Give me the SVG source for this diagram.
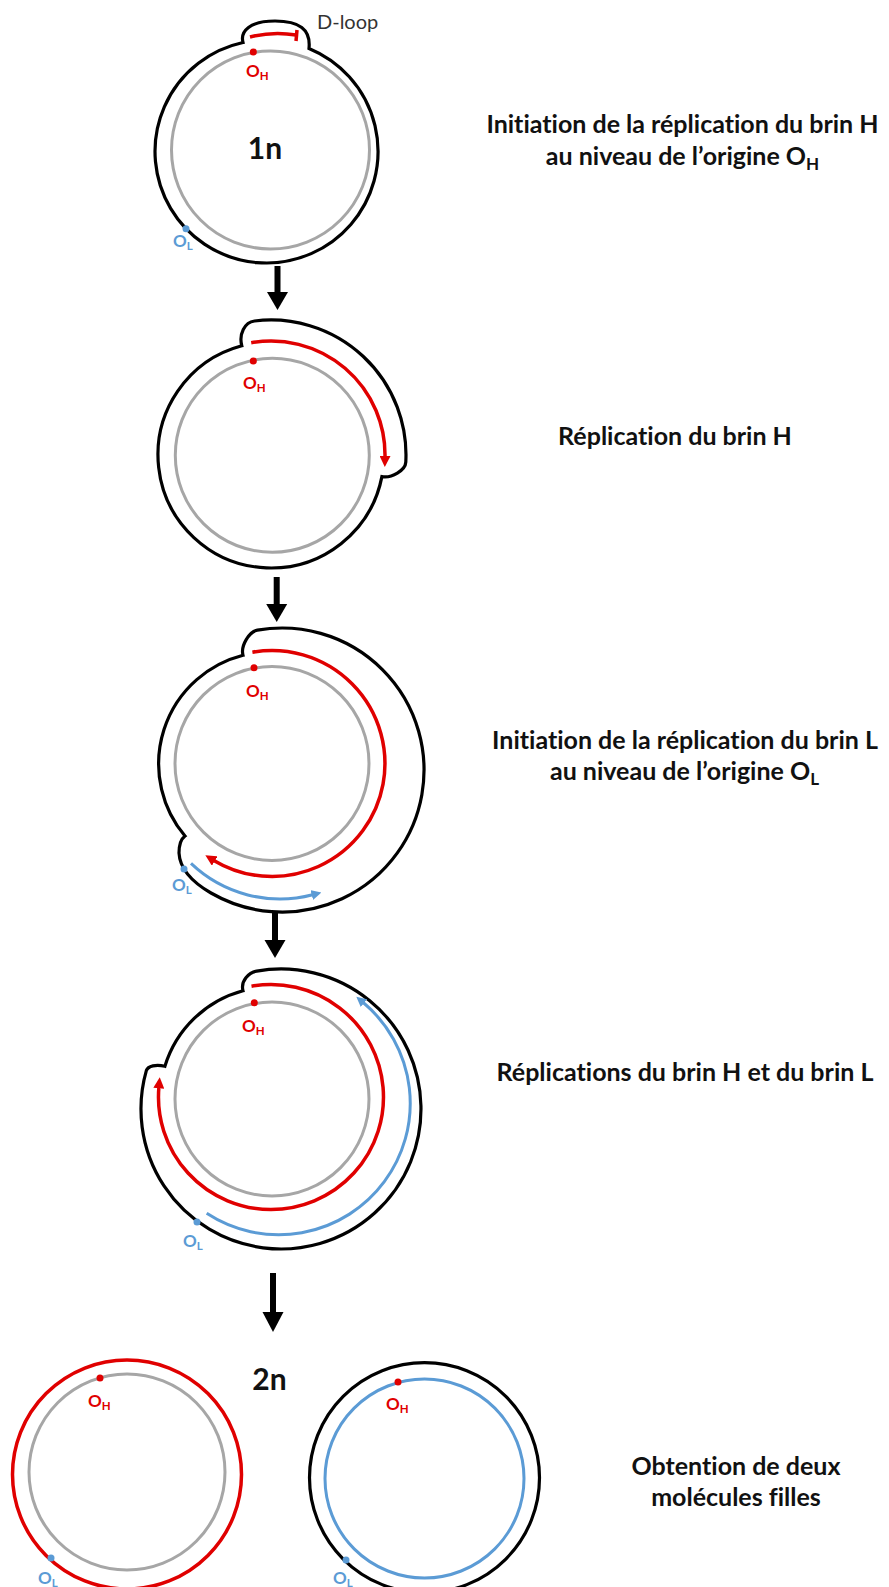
<svg xmlns="http://www.w3.org/2000/svg" width="889" height="1587" viewBox="0 0 889 1587">
<style>
text{font-variant-ligatures:none;font-feature-settings:"liga" 0,"clig" 0}
.blk{fill:none;stroke:#000;stroke-width:3.2}
.gry{fill:none;stroke:#A6A6A6;stroke-width:3}
.red{fill:none;stroke:#E00000;stroke-width:3.5}
.blu{fill:none;stroke:#5B9BD5;stroke-width:3}
.dr{fill:#E00000}
.db{fill:#5B9BD5}
.lh{font-family:Lato,"Open Sans",sans-serif;font-weight:bold;font-size:17px;fill:#E00000}
.ll{font-family:Lato,"Open Sans",sans-serif;font-weight:bold;font-size:17px;fill:#5B9BD5}
.sub{font-size:11.5px}
.cap{font-family:Lato,"Open Sans",sans-serif;font-weight:bold;font-size:25px;fill:#111;text-anchor:middle}
.csub{font-size:17px}
.nn{font-family:Lato,"Open Sans",sans-serif;font-weight:bold;font-size:30px;fill:#111;text-anchor:middle}
.arw{fill:#000}
</style>
<defs>
<marker id="ahR" viewBox="0 0 10 10" refX="1" refY="5" markerWidth="11" markerHeight="11" markerUnits="userSpaceOnUse" orient="auto"><path d="M0,0 L10,5 L0,10 z" fill="#E00000"/></marker>
<marker id="ahB" viewBox="0 0 10 10" refX="1" refY="5" markerWidth="10" markerHeight="10" markerUnits="userSpaceOnUse" orient="auto"><path d="M0,0 L10,5 L0,10 z" fill="#5B9BD5"/></marker>
</defs>
<rect width="889" height="1587" fill="#fff"/>

<g id="stage1">
<path class="blk" d="M309,48.4 A111.5 111.5 0 1 1 243,42.5 C240,31 250,21 275,21 C299,21 311,29 309,48.4 Z"/>
<circle class="gry" cx="270.5" cy="150" r="99"/>
<path class="red" d="M250,37 Q273,31 296,35"/>
<path class="red" d="M297,30 L296,41"/>
<circle class="dr" cx="253.3" cy="52" r="3.5"/>
<text class="lh" x="246" y="77">O<tspan class="sub" dy="3">H</tspan></text>
<circle class="db" cx="186" cy="228.7" r="3.5"/>
<text class="ll" x="173" y="247">O<tspan class="sub" dy="3">L</tspan></text>
<text class="nn" x="265" y="159">1n</text>
<text x="317" y="29" style="font-family:Lato,'Open Sans',sans-serif;font-size:20px;fill:#333">D-loop</text>
</g>

<g id="stage2">
<path class="blk" d="M241.8,345.8 C238.7,334.2 244.6,322.2 254.5,321 A135 135 0 0 1 405.8,462.1 C405.4,470.1 391.7,478.5 381.9,476.6 A113 113 0 1 1 241.8,345.8 Z"/>
<circle class="gry" cx="272.3" cy="455.3" r="97"/>
<path class="red" d="M251.2,342.7 A114 114 0 0 1 385,457" marker-end="url(#ahR)"/>
<circle class="dr" cx="253.3" cy="361" r="3.5"/>
<text class="lh" x="243" y="389">O<tspan class="sub" dy="3">H</tspan></text>
</g>

<g id="stage3">
<path class="blk" d="M243,655.3 C240.4,645.6 249.4,631.6 257.3,630.2 A142 142 0 1 1 211,893 C198,885.5 180,872 179,853 C179,845 181,839 185,836 A112 112 0 0 1 243,655.3 Z"/>
<circle class="gry" cx="272" cy="763.5" r="97"/>
<path class="red" d="M252.4,652.2 A113 113 0 1 1 213.8,860.4" marker-end="url(#ahR)"/>
<path class="blu" d="M191,863.4 A129 129 0 0 0 312.7,894.8" marker-end="url(#ahB)"/>
<circle class="dr" cx="254" cy="667.7" r="3.5"/>
<text class="lh" x="246" y="697">O<tspan class="sub" dy="3">H</tspan></text>
<circle class="db" cx="184" cy="869" r="3.5"/>
<text class="ll" x="172" y="891">O<tspan class="sub" dy="3">L</tspan></text>
</g>

<g id="stage4">
<path class="blk" d="M243,990.8 C240.4,981.1 248.8,972.5 256.7,971.1 A140 140 0 1 1 146.4,1070.4 C148,1066 156,1064 164.9,1066.3 A112 112 0 0 1 243,990.8 Z"/>
<circle class="gry" cx="272" cy="1099" r="97"/>
<path class="red" d="M251.5,986.2 A112.5 112.5 0 1 1 158.9,1087.2" marker-end="url(#ahR)"/>
<path class="blu" d="M206.7,1213.3 A131.5 131.5 0 0 0 363.2,1002.5" marker-end="url(#ahB)"/>
<circle class="dr" cx="254.3" cy="1002.7" r="3.5"/>
<text class="lh" x="242" y="1032">O<tspan class="sub" dy="3">H</tspan></text>
<circle class="db" cx="197" cy="1222" r="3.5"/>
<text class="ll" x="183" y="1247">O<tspan class="sub" dy="3">L</tspan></text>
</g>

<g id="stage5-left">
<circle class="red" cx="127" cy="1474.5" r="114.5"/>
<circle class="gry" cx="127" cy="1472" r="98"/>
<circle class="dr" cx="100" cy="1378" r="3.5"/>
<text class="lh" x="88" y="1407">O<tspan class="sub" dy="3">H</tspan></text>
<circle class="db" cx="51" cy="1558" r="3.5"/>
<text class="ll" x="38" y="1584">O<tspan class="sub" dy="3">L</tspan></text>
</g>

<g id="stage5-right">
<circle class="blk" cx="424.5" cy="1477.7" r="115"/>
<circle class="blu" cx="424.5" cy="1478.5" r="99.5"/>
<circle class="dr" cx="398" cy="1382" r="3.5"/>
<text class="lh" x="386" y="1410">O<tspan class="sub" dy="3">H</tspan></text>
<circle class="db" cx="346" cy="1560" r="3.5"/>
<text class="ll" x="333" y="1584">O<tspan class="sub" dy="3">L</tspan></text>
</g>

<g id="label-2n"><text class="nn" x="269.5" y="1390">2n</text></g>

<g id="connectors">
<rect class="arw" x="274.5" y="266" width="6" height="27"/>
<polygon class="arw" points="267,292 288,292 277.5,310"/>
<rect class="arw" x="273.7" y="577" width="6" height="28"/>
<polygon class="arw" points="266.2,604 287.2,604 276.7,622"/>
<rect class="arw" x="272" y="913" width="6" height="28"/>
<polygon class="arw" points="264.5,940 285.5,940 275,958"/>
<rect class="arw" x="270" y="1273" width="6" height="40"/>
<polygon class="arw" points="262.5,1312 283.5,1312 273,1332"/>
</g>

<g id="caption1">
<text class="cap" x="682.5" y="133">Initiation de la réplication du brin H</text>
<text class="cap" x="682.5" y="165">au niveau de l’origine O<tspan class="csub" dy="5">H</tspan></text>
</g>
<g id="caption2"><text class="cap" x="675" y="445">Réplication du brin H</text></g>
<g id="caption3">
<text class="cap" x="685" y="749">Initiation de la réplication du brin L</text>
<text class="cap" x="684.5" y="780">au niveau de l’origine O<tspan class="csub" dy="5">L</tspan></text>
</g>
<g id="caption4"><text class="cap" x="685" y="1081">Réplications du brin H et du brin L</text></g>
<g id="caption5">
<text class="cap" x="736" y="1475">Obtention de deux</text>
<text class="cap" x="736" y="1506">molécules filles</text>
</g>
</svg>
